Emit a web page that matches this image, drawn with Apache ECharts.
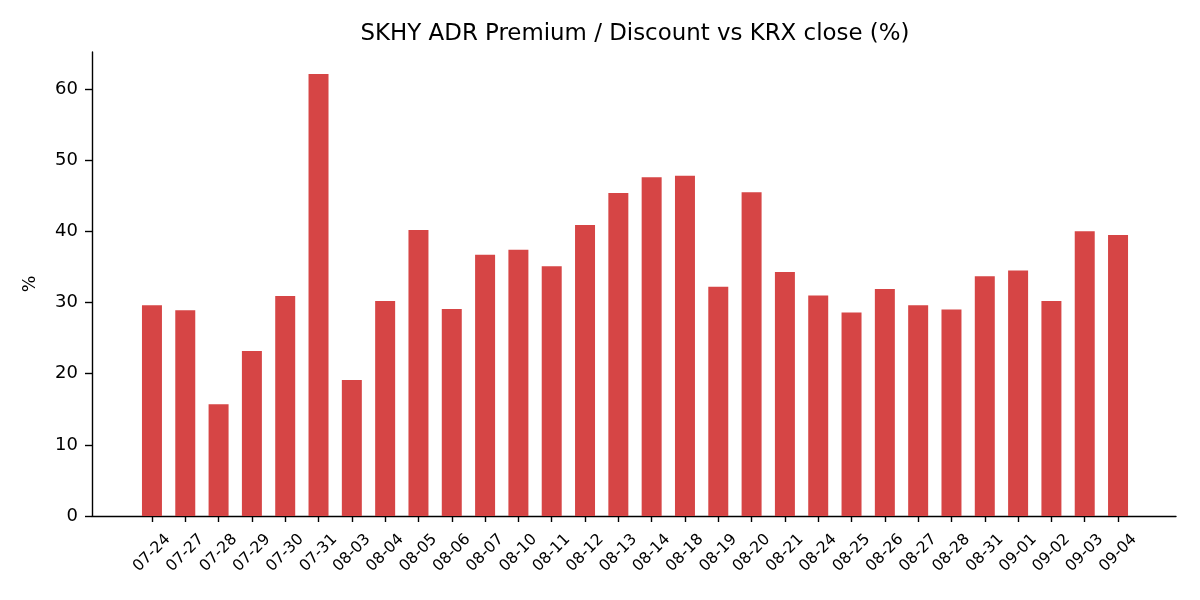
<!DOCTYPE html>
<html>
<head>
<meta charset="utf-8">
<script src="https://cdn.jsdelivr.net/npm/echarts@6/dist/echarts.min.js"></script>
<style>html,body{margin:0;padding:0;background:#fff}#c{width:1200px;height:600px}</style>
</head>
<body>
<div id="c"></div>
<script>
const categories = ["07-24","07-27","07-28","07-29","07-30","07-31","08-03","08-04","08-05","08-06","08-07","08-10","08-11","08-12","08-13","08-14","08-18","08-19","08-20","08-21","08-24","08-25","08-26","08-27","08-28","08-31","09-01","09-02","09-03","09-04"];
const premium = [29.6,28.9,15.7,23.2,30.9,62.1,19.1,30.2,40.2,29.1,36.7,37.4,35.1,40.9,45.4,47.6,47.8,32.2,45.5,34.3,31.0,28.6,31.9,29.6,29.0,33.7,34.5,30.2,40.0,39.5];
const yTicks = [0,10,20,30,40,50,60];

const FONT = 'DejaVu Sans';
const yMax = 65.2;
const chart = echarts.init(document.getElementById('c'), null, {renderer:'canvas'});
chart.setOption({
  animation:false,
  backgroundColor:'#fff',
  textStyle:{fontFamily:FONT},
  title:{
    text:'SKHY ADR Premium / Discount vs KRX close (%)',
    left:630, top:18, textAlign:'center',
    textStyle:{fontFamily:FONT,fontSize:22.9,fontWeight:'normal',color:'#000'}
  },
  grid:[
    {left:92,right:24,top:52,bottom:84},
    {left:135.3,right:65.3,top:52,bottom:84}
  ],
  xAxis:[
    {gridIndex:0,type:'value',min:0,max:1,
     axisLine:{show:true,lineStyle:{color:'#000',width:1.4}},
     axisTick:{show:false},axisLabel:{show:false},splitLine:{show:false}},
    {gridIndex:1,type:'category',data:categories,
     axisLine:{show:false},
     axisTick:{show:true,alignWithLabel:true,length:6,lineStyle:{color:'#000',width:1.4}},
     axisLabel:{show:true,interval:0,rotate:45,align:'center',verticalAlign:'middle',margin:37,
       fontFamily:FONT,fontSize:15.6,color:'#000'},
     splitLine:{show:false}}
  ],
  yAxis:[
    {gridIndex:0,type:'value',min:0,max:yMax,interval:10,
     name:'%',nameLocation:'middle',nameGap:53,nameRotate:90,
     nameTextStyle:{fontFamily:FONT,fontSize:17.6,color:'#000'},
     axisLine:{show:true,lineStyle:{color:'#000',width:1.4}},
     axisTick:{show:true,length:7,customValues:yTicks,lineStyle:{color:'#000',width:1.4}},
     axisLabel:{show:true,margin:14,fontFamily:FONT,fontSize:18,color:'#000',customValues:yTicks},
     splitLine:{show:false}},
    {gridIndex:1,type:'value',min:0,max:yMax,interval:10,show:false,splitLine:{show:false}}
  ],
  series:[{
    type:'bar',xAxisIndex:1,yAxisIndex:1,data:premium,barWidth:'60%',
    itemStyle:{color:'#d64545'}
  }]
});
</script>
</body>
</html>
